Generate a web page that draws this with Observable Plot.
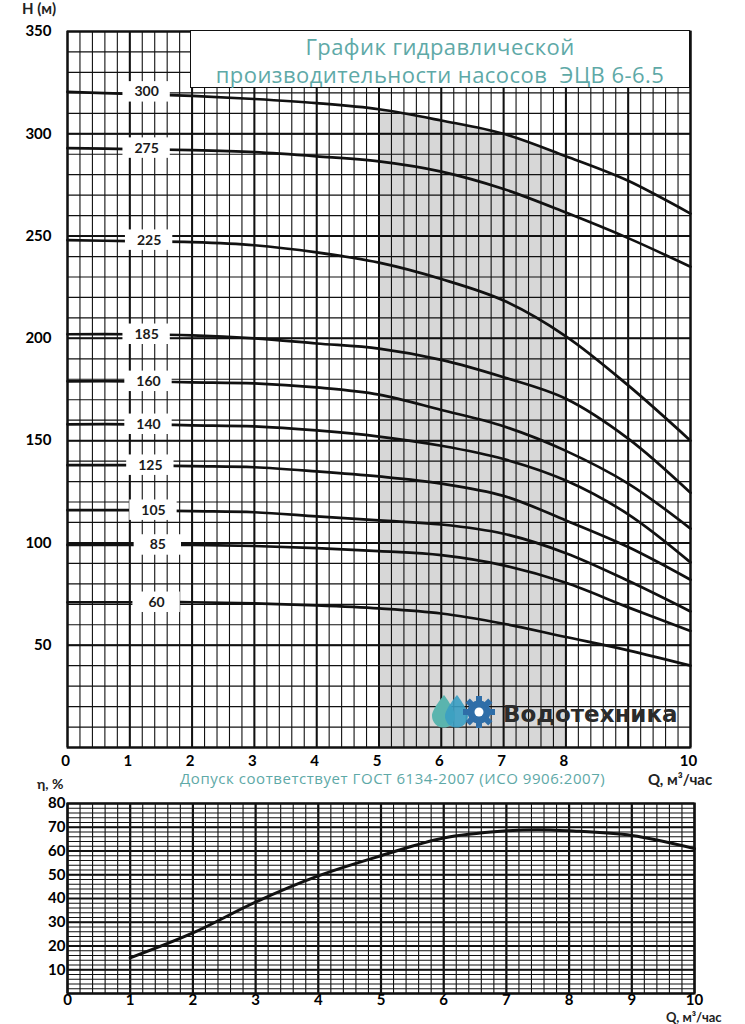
<!DOCTYPE html>
<html><head><meta charset="utf-8">
<script src="https://cdn.jsdelivr.net/npm/d3@7"></script>
<script src="https://cdn.jsdelivr.net/npm/@observablehq/plot@0.6"></script>
<style>
body{margin:0;background:#fff;}
#wrap{position:relative;width:745px;height:1024px;overflow:hidden;font-family:Lato,sans-serif;background:#fff;}
.abs{position:absolute;white-space:nowrap;line-height:1;}
#p1{position:absolute;left:0;top:0;}
#p2{position:absolute;left:0;top:780px;}
#title{position:absolute;left:190px;top:30px;width:500px;height:58px;box-sizing:border-box;border:1.5px solid #111;background:#fff;
 color:#5ea9a7;font-family:"Open Sans",sans-serif;font-size:22px;letter-spacing:0.45px;line-height:28px;text-align:center;padding-top:1px;}
.teal{color:#5ea9a7;font-family:"Open Sans",sans-serif;}
.ax{font-weight:bold;font-size:15px;color:#222;font-family:Lato,sans-serif;}
</style></head>
<body><div id="wrap">
<div id="p1"></div>
<div id="p2"></div>
<div id="title">График гидравлической<br>производительности насосов&nbsp; ЭЦВ 6-6.5</div>
<div class="abs ax" style="left:22px;top:1px;">H (м)</div>
<div class="abs teal" style="left:180px;top:771px;font-size:15px;letter-spacing:0.55px;">Допуск соответствует ГОСТ 6134-2007 (ИСО 9906:2007)</div>
<div class="abs ax" style="left:648px;top:772px;">Q, м³/час</div>
<div class="abs ax" style="left:37px;top:777px;font-size:14px;">η, %</div>
<div class="abs ax" style="left:666px;top:1011px;font-size:13px;">Q, м³/час</div>
<svg class="abs" style="left:430px;top:692px;" width="270" height="40" viewBox="0 0 270 40">
  <path d="M14 3 C 14 3, 25 17, 25 24 A 11.5 11.5 0 0 1 2 24 C 2 17, 14 3, 14 3 Z" fill="#5ab4ae"/>
  <path d="M27 3 C 27 3, 38 17, 38 24 A 11.5 11.5 0 0 1 15 24 C 15 17, 27 3, 27 3 Z" fill="#3a9fc3" fill-opacity="0.9"/>
  <g transform="translate(49,20)" fill="#2f6ea8">
    <circle r="11.5"/>
    <rect x="-3" y="-16" width="6" height="7"/>
    <rect x="-3" y="-16" width="6" height="7" transform="rotate(45)"/>
    <rect x="-3" y="-16" width="6" height="7" transform="rotate(90)"/>
    <rect x="-3" y="-16" width="6" height="7" transform="rotate(135)"/>
    <rect x="-3" y="-16" width="6" height="7" transform="rotate(180)"/>
    <rect x="-3" y="-16" width="6" height="7" transform="rotate(225)"/>
    <rect x="-3" y="-16" width="6" height="7" transform="rotate(270)"/>
    <rect x="-3" y="-16" width="6" height="7" transform="rotate(315)"/>
    <circle r="4.5" fill="#fff"/>
  </g>
  <text x="73" y="30" font-family="DejaVu Sans" font-weight="bold" font-size="23" fill="#2b2b2b">Водотехника</text>
</svg>
</div>
<script>
// ---- data ----
const Q = [0, 1, 2, 3, 4, 5, 6, 7, 8, 9, 10];
const models = ["300", "275", "225", "185", "160", "140", "125", "105", "85", "60"];
const H300 = [320.5, 319.5, 318.5, 317, 315, 312, 306.5, 300, 289, 277, 261];
const H275 = [293, 292.5, 292, 291, 289, 286.5, 281.5, 273, 261.5, 249, 235];
const H225 = [248, 247.5, 247, 245.5, 242, 237, 229, 218.5, 201, 177, 150];
const H185 = [202, 202, 201.5, 200, 197.5, 195, 189.5, 181, 170.5, 151, 124.5];
const H160 = [179, 179, 178.5, 178, 176, 172.5, 165, 157, 145, 129, 107];
const H140 = [158, 158, 157.5, 157, 155, 152, 147.5, 141, 130.5, 114, 90.5];
const H125 = [138, 138, 137.5, 137, 135, 132.5, 129, 123, 111, 98, 82];
const H105 = [116, 116, 115.5, 115, 113, 111, 109, 104.5, 95, 81.5, 66.5];
const H85  = [99, 99, 99, 98.5, 97.5, 96, 94, 89, 80.5, 68.5, 57];
const H60  = [71, 71, 71, 70.5, 69.5, 68, 65.5, 60.5, 54, 47.5, 40];
const labelQ = [1.27, 1.27, 1.31, 1.27, 1.3, 1.3, 1.33, 1.38, 1.45, 1.43];
const workRange = [5, 8];
const QE  = [1, 2, 3, 4, 5, 6, 7, 7.5, 8, 9, 10];
const ETA = [15, 25.5, 38.5, 49.5, 58, 65.5, 68.5, 69, 68.5, 66.5, 61];
const xTicksTop = [0, 1, 2, 3, 4, 5, 6, 7, 8, 10];
const xTicksBottom = [0, 1, 2, 3, 4, 5, 6, 7, 8, 9, 10];
const yTicksTop = [50, 100, 150, 200, 250, 300, 350];
const yTicksBottom = [10, 20, 30, 40, 50, 60, 70, 80];

// ---- tables ----
const series = [H300, H275, H225, H185, H160, H140, H125, H105, H85, H60];
const curves = models.flatMap((m, i) => Q.map((q, j) => ({model: m, q, h: series[i][j]})));
const shade = Q.map((q, j) => ({q, h: H300[j]})).filter(d => d.q >= workRange[0] && d.q <= workRange[1]);
const labels = models.map((m, i) => ({model: m, q: labelQ[i], h: series[i][0]}));
const eff = QE.map((q, i) => ({q, e: ETA[i]}));

const minorQ = d3.range(0, 10.001, 0.2);
const majorQ = d3.range(0, 11, 1);
const ink = "#111";

const p1 = Plot.plot({
  width: 745, height: 790,
  marginTop: 31, marginBottom: 43, marginLeft: 67, marginRight: 55,
  style: {fontFamily: "Lato, sans-serif", background: "transparent"},
  x: {domain: [0, 10]},
  y: {domain: [0, 350]},
  marks: [
    Plot.areaY(shade, {x: "q", y: "h", fill: "#d7d7d7", curve: "catmull-rom"}),
    Plot.ruleX(minorQ, {stroke: ink, strokeWidth: 1.1}),
    Plot.ruleX(majorQ, {stroke: ink, strokeWidth: 2}),
    Plot.ruleY(d3.range(0, 351, 10), {stroke: ink, strokeWidth: 1.2}),
    Plot.ruleY(d3.range(0, 351, 50), {stroke: ink, strokeWidth: 2}),
    Plot.line(curves, {x: "q", y: "h", z: "model", stroke: ink, strokeWidth: 2.7, curve: "catmull-rom"}),
    Plot.rect(labels, {x1: d => d.q - 0.38, x2: d => d.q + 0.38, y1: d => d.h - 5, y2: d => d.h + 5, fill: "#fff"}),
    Plot.text(labels, {x: "q", y: "h", text: "model", fontSize: 14, fontWeight: "bold", fill: "#1a1a1a"}),
    Plot.frame({stroke: ink, strokeWidth: 2}),
    Plot.axisX({ticks: xTicksTop, tickSize: 0, tickPadding: 8, fontSize: 15, fontWeight: "bold", tickFormat: d => d, label: null, dx: -2}),
    Plot.axisY({ticks: yTicksTop, tickSize: 0, tickPadding: 16, fontSize: 15, fontWeight: "bold", tickFormat: d => d, label: null})
  ]
});
document.getElementById("p1").append(p1);

const p2 = Plot.plot({
  width: 745, height: 244,
  marginTop: 23, marginBottom: 31, marginLeft: 67, marginRight: 51,
  style: {fontFamily: "Lato, sans-serif", background: "transparent"},
  x: {domain: [0, 10]},
  y: {domain: [0, 80]},
  marks: [
    Plot.ruleX(minorQ, {stroke: ink, strokeWidth: 1.1}),
    Plot.ruleX(majorQ, {stroke: ink, strokeWidth: 2.2}),
    Plot.ruleY(d3.range(0, 81, 2), {stroke: ink, strokeWidth: 1.1}),
    Plot.ruleY(d3.range(0, 81, 10), {stroke: ink, strokeWidth: 2}),
    Plot.line(eff, {x: "q", y: "e", stroke: ink, strokeWidth: 3, curve: "catmull-rom"}),
    Plot.frame({stroke: ink, strokeWidth: 2.2}),
    Plot.axisX({ticks: xTicksBottom, tickSize: 0, tickPadding: 1, fontSize: 15, fontWeight: "bold", tickFormat: d => d, label: null}),
    Plot.axisY({ticks: yTicksBottom, tickSize: 0, tickPadding: 2, fontSize: 15, fontWeight: "bold", tickFormat: d => d, label: null})
  ]
});
document.getElementById("p2").append(p2);
</script>
</body></html>
